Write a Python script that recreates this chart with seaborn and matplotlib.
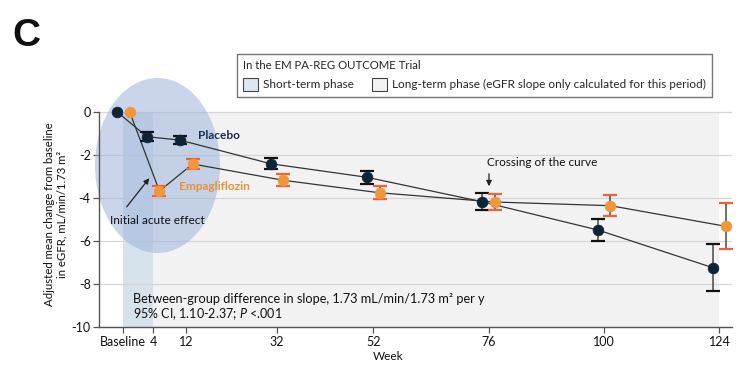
import numpy as np
import pandas as pd
import matplotlib
matplotlib.use("Agg")
import matplotlib.pyplot as plt
import matplotlib.transforms as mtransforms
from matplotlib.patches import Ellipse, Patch
import seaborn as sns

# ---- data ----
weeks = [0, 4, 12, 32, 52, 76, 100, 124]
week_labels = ["Baseline", "4", "12", "32", "52", "76", "100", "124"]
placebo_mean = [0.0, -1.16, -1.32, -2.42, -3.05, -4.19, -5.50, -7.26]
placebo_err = [0.0, 0.20, 0.20, 0.26, 0.31, 0.39, 0.50, 1.10]
empa_mean = [0.0, -3.69, -2.43, -3.19, -3.77, -4.20, -4.37, -5.33]
empa_err = [0.0, 0.23, 0.22, 0.28, 0.30, 0.38, 0.49, 1.07]
yticks = [0, -2, -4, -6, -8, -10]

W, H = 746, 366
FONT = "Lato"
sns.set_theme(style="white")
plt.rcParams["font.family"] = [FONT, "DejaVu Sans"]
plt.rcParams["mathtext.fontset"] = "custom"
plt.rcParams["mathtext.rm"] = FONT
plt.rcParams["mathtext.it"] = FONT + ":italic"

fig = plt.figure(figsize=(W / 100, H / 100), dpi=100)
def px(x, y):
    return (x / W, 1 - y / H)

ax_l, ax_r, ax_t, ax_b = 99, 732, 101, 326.7
ax = fig.add_axes([ax_l / W, 1 - ax_b / H, (ax_r - ax_l) / W, (ax_b - ax_t) / H])

# piecewise axis scale (week positions as drawn in the figure)
kx = [-50, 0, 4, 12, 32, 300]
ky = [-50, 0, 6.2, 13.1, 32, 300]
fwd = lambda x: np.interp(x, kx, ky)
inv = lambda x: np.interp(x, ky, kx)
ax.set_xscale("function", functions=(fwd, inv))
ax.set_xlim(inv(-5.06), 126.6)
ax.set_ylim(-10, 0.5)

# phases
ax.fill_between([weeks[0], weeks[1]], -10, 0, color="#d6e2ec", lw=0, zorder=0.2)
ax.fill_between([weeks[1], weeks[-1]], -10, 0, color="#f2f2f2", lw=0, zorder=0.2)

ax.set_yticks(yticks)
ax.yaxis.grid(True, color="#d6d6d6", lw=0.9)
ax.set_axisbelow(True)

# ellipse highlighting the initial acute effect
ell = Ellipse(px(157.5, 165.5), 125 / W, 175 / H, transform=fig.transFigure,
              facecolor="#9fb4dc", alpha=0.55, edgecolor="none", zorder=0.6, clip_on=False)
ax.add_artist(ell)

df = pd.DataFrame({"week": weeks * 2,
                   "value": placebo_mean + empa_mean,
                   "err": placebo_err + empa_err,
                   "group": ["Placebo"] * len(weeks) + ["Empagliflozin"] * len(weeks)})

series = [("Placebo", "#0d2436", "#111111", -6.3),
          ("Empagliflozin", "#F0973A", "#F0603A", 6.3)]
for name, mcol, capcol, dx in series:
    d = df[df.group == name]
    off = ax.transData + mtransforms.ScaledTranslation(dx / 100, 0, fig.dpi_scale_trans)
    n0 = len(ax.lines)
    sns.lineplot(data=d, x="week", y="value", ax=ax, color="#333333", lw=0.9,
                 estimator=None, sort=False, zorder=2)
    for ln in ax.lines[n0:]:
        ln.set_transform(off)
    dd = d[d.err > 0]
    ax.vlines(dd.week, dd.value - dd.err, dd.value + dd.err, colors="#555555",
              lw=1.2, transform=off, zorder=3)
    for sgn in (-1, 1):
        ax.plot(dd.week, dd.value + sgn * dd.err, ls="none", marker="_", ms=10,
                mew=1.6, color=capcol, transform=off, zorder=3.5)
    nc = len(ax.collections)
    sns.scatterplot(data=d, x="week", y="value", ax=ax, color=mcol, s=60,
                    edgecolor=mcol, linewidth=0.5, zorder=4, legend=False)
    for c in ax.collections[nc:]:
        c.set_offset_transform(off)

ax.set_xticks(weeks)
ax.set_xticklabels(week_labels)
ax.set_xlabel("")
ax.set_ylabel("")
ax.set_yticklabels([str(t) for t in yticks])
for s in ["top", "right"]:
    ax.spines[s].set_visible(False)
ax.spines["left"].set_bounds(-10, 0)
for s in ["left", "bottom"]:
    ax.spines[s].set_color("#555555")
    ax.spines[s].set_linewidth(1.0)
ax.tick_params(axis="both", which="major", direction="out", length=4, width=0.9,
               color="#555555", labelsize=9, labelcolor="#111111", pad=2)
ax.tick_params(axis="x", bottom=True, pad=3)
ax.tick_params(axis="y", left=True)

# text
fig.text(*px(12, 46), "C", fontsize=28, fontweight="bold", family="Liberation Sans",
         ha="left", va="baseline", color="#111111")
fig.text(*px(56, 214), "Adjusted mean change from baseline\nin eGFR, mL/min/1.73 m²",
         rotation=90, ha="center", va="center", multialignment="center",
         fontsize=8.2, color="#111111", linespacing=1.2)
fig.text(*px(388, 356), "Week", ha="center", va="center", fontsize=8.5, color="#111111")
fig.text(*px(198, 135), "Placebo", ha="left", va="center", fontsize=8.6,
         fontweight="bold", color="#1a2f4a")
fig.text(*px(179, 187), "Empagliflozin", ha="left", va="center", fontsize=8.6,
         fontweight="bold", color="#E8903C")
fig.text(*px(110, 220), "Initial acute effect", ha="left", va="center", fontsize=8.6,
         color="#111111")
ax.annotate("", xy=px(151, 176), xytext=px(125, 209), xycoords="figure fraction",
            textcoords="figure fraction",
            arrowprops=dict(arrowstyle="-|>", color="#222222", lw=0.9, mutation_scale=8))
fig.text(*px(487, 163), "Crossing of the curve", ha="left", va="center", fontsize=8.5,
         color="#111111")
ax.annotate("", xy=px(489, 189), xytext=px(489, 171), xycoords="figure fraction",
            textcoords="figure fraction",
            arrowprops=dict(arrowstyle="-|>", color="#222222", lw=0.9, mutation_scale=8))
fig.text(*px(133, 299), "Between-group difference in slope, 1.73 mL/min/1.73 m² per y",
         ha="left", va="center", fontsize=9.2, color="#111111")
fig.text(*px(133, 314), "95% CI, 1.10-2.37; $P$ <.001",
         ha="left", va="center", fontsize=9.0, color="#111111")

# legend
handles = [Patch(facecolor="#dce7f0", edgecolor="#444444", lw=0.8, label="Short-term phase"),
           Patch(facecolor="#f2f2f2", edgecolor="#444444", lw=0.8,
                 label="Long-term phase (eGFR slope only calculated for this period)")]
leg = fig.legend(handles=handles, title="In the EM PA-REG OUTCOME Trial", ncol=2,
                 loc="upper left", bbox_to_anchor=px(237, 54), borderaxespad=0,
                 fontsize=8.5, title_fontsize=8.2, frameon=True, fancybox=False,
                 edgecolor="#555555", handlelength=1.27, handleheight=1.27,
                 handletextpad=0.35, columnspacing=1.6, borderpad=0.55,
                 labelspacing=0.55)
leg._legend_box.align = "left"
leg.get_frame().set_linewidth(1.0)

fig.savefig("out.png", dpi=100, facecolor="white")
